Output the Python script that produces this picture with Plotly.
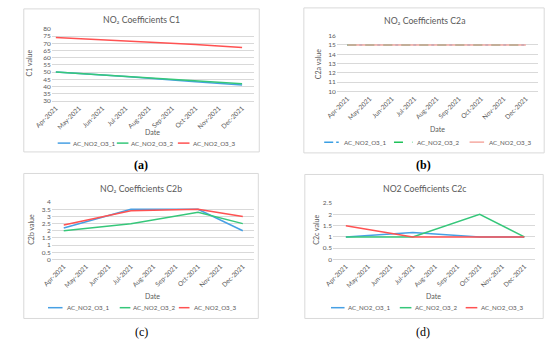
import plotly.graph_objects as go

# ---------------- data ----------------
months = ["Apr-2021", "May-2021", "Jun-2021", "Jul-2021", "Aug-2021",
          "Sep-2021", "Oct-2021", "Nov-2021", "Dec-2021"]
sample_months = ["Apr-2021", "Jul-2021", "Oct-2021", "Dec-2021"]
series_names = ["AC_NO2_O3_1", "AC_NO2_O3_2", "AC_NO2_O3_3"]

c1_1 = [50, 47, 43.3, 41]
c1_2 = [50, 47, 44, 42]
c1_3 = [74, 71.7, 69.2, 67]

c2a_1 = [15, 15, 15, 15]
c2a_2 = [15, 15, 15, 15]
c2a_3 = [15, 15, 15, 15]

c2b_1 = [2.2, 3.5, 3.5, 2.0]
c2b_2 = [2.0, 2.5, 3.3, 2.5]
c2b_3 = [2.4, 3.4, 3.5, 3.0]

c2c_1 = [1, 1.2, 1, 1]
c2c_2 = [1, 1, 2, 1]
c2c_3 = [1.5, 1, 1, 1]

titles = ["NO₂ Coefficients C1", "NO₂ Coefficients C2a",
          "NO₂ Coefficients C2b", "NO2 Coefficients C2c"]
ytitles = ["C1 value", "C2a value", "C2b value", "C2c value"]
panel_labels = ["(a)", "(b)", "(c)", "(d)"]
label_weights = ["bold", "bold", "normal", "normal"]

# ---------------- styling ----------------
W, H = 550, 344
FONT = "Lato, 'Open Sans', sans-serif"
GREY = "#595959"
GRID = "#d9d9d9"
BLUE, GREEN, RED = "#47a0e4", "#36c77a", "#ff5252"

def px(x):
    return x / W

def py(y):
    return 1 - y / H

x_idx = [months.index(m) for m in sample_months]

panels = [
    dict(data=[c1_1, c1_2, c1_3], colors=[BLUE, GREEN, RED], dashes=["solid"] * 3,
         xdom=(36, 245), xr=(-0.17, 8.53), ydom=(25.3, 99), yr=(30, 80), dt=5,
         box=(7, 5, 250, 151), title_y=16, date=(140, 131), ytitle=(12, 60),
         leg_y=142, leg=[(42, 55, 56), (103, 115, 116), (166, 178, 180)], lab=(128, 164)),
    dict(data=[c2a_1, c2a_2, c2a_3], colors=["#3b9fe3", "#1fc25a", "#f5aaa2"],
         dashes=["dashdot", "dash", "solid"],
         xdom=(330, 538), xr=(-0.47, 8.56), ydom=(32.3, 89.3), yr=(10, 16), dt=1,
         box=(296, 4, 544, 152), title_y=17, date=(434, 128), ytitle=(310, 61),
         leg_y=141, leg=[(317, 332, 335), (389, 408, 411), (467, 482, 485)], lab=(419, 164)),
    dict(data=[c2b_1, c2b_2, c2b_3], colors=[BLUE, GREEN, RED], dashes=["solid"] * 3,
         xdom=(36, 245), xr=(-0.53, 8.52), ydom=(202.3, 260.7), yr=(0, 4), dt=0.5,
         box=(7, 173, 249, 321), title_y=188, date=(140, 298), ytitle=(15, 230),
         leg_y=310, leg=[(32, 47, 50), (106, 117, 118), (167, 178, 181)], lab=(128, 335)),
    dict(data=[c2c_1, c2c_2, c2c_3], colors=[BLUE, GREEN, RED], dashes=["solid"] * 3,
         xdom=(326, 535), xr=(-0.58, 8.5), ydom=(203.3, 260.7), yr=(0, 2.5), dt=0.5,
         box=(297, 174, 543, 321), title_y=188, date=(430, 298.5), ytitle=(309, 230),
         leg_y=310, leg=[(324, 338, 340), (395, 407, 409), (463, 475, 477)], lab=(419, 335)),
]

fig = go.Figure()
shapes = []
annotations = []
layout_axes = {}

for i, p in enumerate(panels):
    n = "" if i == 0 else str(i + 1)
    xa, ya = "x" + n, "y" + n
    for s, vals in enumerate(p["data"]):
        fig.add_trace(go.Scatter(
            x=x_idx, y=vals, xaxis=xa, yaxis=ya, mode="lines",
            name=series_names[s], showlegend=False,
            line=dict(color=p["colors"][s], width=1.5, dash=p["dashes"][s]),
        ))
    layout_axes["xaxis" + n] = dict(
        domain=[px(p["xdom"][0]), px(p["xdom"][1])], range=list(p["xr"]),
        anchor=ya, tickmode="array", tickvals=list(range(len(months))), ticktext=months,
        tickangle=-45, tickfont=dict(size=6.5, color=GREY, family=FONT),
        showgrid=False, zeroline=False, showline=True, linecolor=GRID, linewidth=0.8,
        ticks="", fixedrange=True,
    )
    layout_axes["yaxis" + n] = dict(
        domain=[py(p["ydom"][1]), py(p["ydom"][0])], range=list(p["yr"]),
        anchor=xa, dtick=p["dt"], tick0=0,
        tickfont=dict(size=6.5, color=GREY, family=FONT),
        showgrid=True, gridcolor=GRID, gridwidth=0.8, zeroline=False,
        showline=False, ticks="", fixedrange=True,
    )
    bx0, by0, bx1, by1 = p["box"]
    shapes.append(dict(type="rect", xref="paper", yref="paper",
                       x0=px(bx0), x1=px(bx1), y0=py(by1), y1=py(by0),
                       line=dict(color=GRID, width=1), fillcolor="rgba(0,0,0,0)", layer="below"))
    # chart title
    annotations.append(dict(text=titles[i], x=px((bx0 + bx1) / 2), y=py(p["title_y"]),
                            xref="paper", yref="paper", showarrow=False,
                            xanchor="center", yanchor="middle",
                            font=dict(size=8.7, color=GREY, family=FONT)))
    # axis titles
    annotations.append(dict(text="Date", x=px(p["date"][0]), y=py(p["date"][1]),
                            xref="paper", yref="paper", showarrow=False,
                            xanchor="center", yanchor="middle",
                            font=dict(size=7, color=GREY, family=FONT)))
    annotations.append(dict(text=ytitles[i], x=px(p["ytitle"][0]), y=py(p["ytitle"][1]),
                            xref="paper", yref="paper", showarrow=False, textangle=-90,
                            xanchor="center", yanchor="middle",
                            font=dict(size=7, color=GREY, family=FONT)))
    # legend keys
    for s, (lx0, lx1, tx) in enumerate(p["leg"]):
        shapes.append(dict(type="line", xref="paper", yref="paper",
                           x0=px(lx0), x1=px(lx1), y0=py(p["leg_y"]), y1=py(p["leg_y"]),
                           line=dict(color=p["colors"][s], width=1.5, dash=p["dashes"][s])))
        annotations.append(dict(text=series_names[s], x=px(tx), y=py(p["leg_y"]),
                                xref="paper", yref="paper", showarrow=False,
                                xanchor="left", yanchor="middle",
                                font=dict(size=6.2, color=GREY, family=FONT)))
    # panel label
    annotations.append(dict(text=panel_labels[i], x=px(p["lab"][0]), y=py(p["lab"][1]),
                            xref="paper", yref="paper", showarrow=False,
                            xanchor="center", yanchor="middle",
                            font=dict(size=12, color="#000000", weight=label_weights[i],
                                      family="'Liberation Serif', serif")))

fig.update_layout(
    width=W, height=H, margin=dict(l=0, r=0, t=0, b=0),
    paper_bgcolor="white", plot_bgcolor="white",
    showlegend=False, shapes=shapes, annotations=annotations,
    **layout_axes,
)

fig.write_html(
    "out.html",
    config={"displayModeBar": False},
    post_script="document.body.style.margin='0';document.body.style.overflow='hidden';",
)
